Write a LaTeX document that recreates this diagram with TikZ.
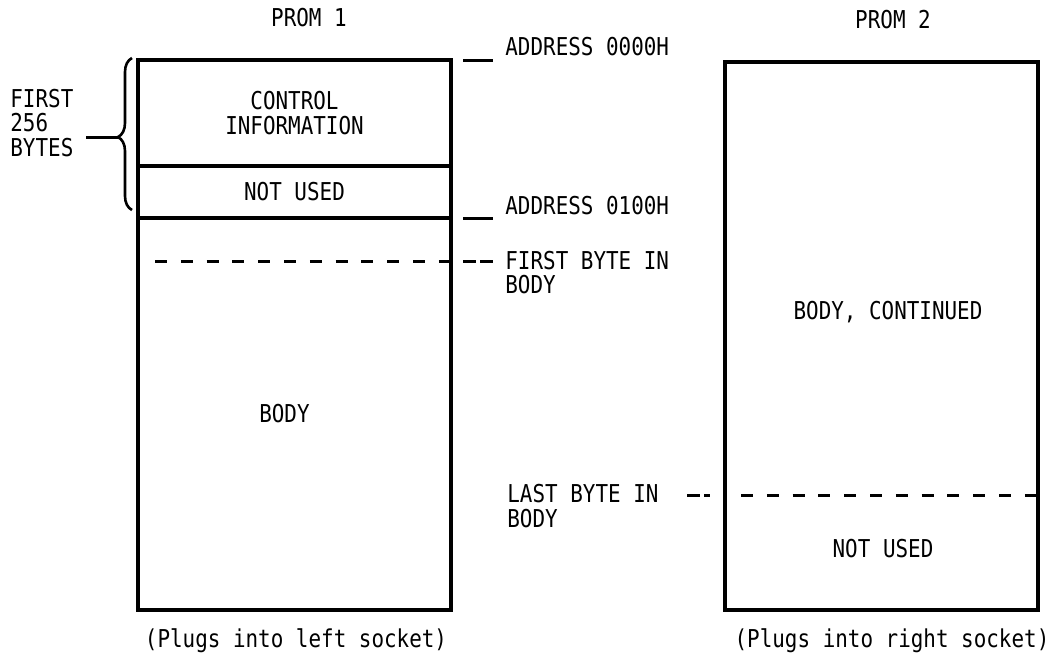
\documentclass[tikz,border=0pt]{standalone}
\usepackage{fontspec}
\usetikzlibrary{positioning, calc, decorations.pathreplacing}
\newfontfamily\promfont[FakeStretch=0.85]{DejaVu Sans Mono}
\newcommand{\promtext}{\promfont\fontsize{12.3}{12.4}\selectfont}
\tikzset{
  lbl/.style={font=\promtext, inner sep=0pt},
  lbll/.style={lbl, align=left, anchor=west},
  sect/.style={lbl, draw, line width=1.6pt, outer sep=0pt, minimum width=156.5pt, align=center},
  tick/.style={line width=1.5pt},
  dashln/.style={line width=1.5pt, dash pattern=on 6pt off 6.9pt},
  ddash/.style={line width=1.5pt, dash pattern=on 6.5pt off 2pt},
}

\begin{document}
\begin{tikzpicture}[x=0.5pt, y=-0.5pt]
    \useasboundingbox (0,0) rectangle (1062,665);

    % prom 1 column
    \node[sect, minimum height=53pt] (ctrl) at (294.5,113) {CONTROL\\INFORMATION};
    \node[sect, minimum height=26pt, below=0pt of ctrl] (nu1) {NOT USED};
    \node[sect, minimum height=196pt, below=0pt of nu1] (body1) {};
    \node[lbl, xshift=-5pt] (b1txt) at (body1) {BODY};
    \node[lbl] (t1) at (309,18) {PROM 1};
    \node[lbl] (s1) at (296,641) {(Plugs into left socket)};
    \coordinate (fb) at (155,261);
    \draw[dashln] (fb) -- (fb -| body1.east);

    % first 256 bytes brace
    \coordinate (brtop) at (132,58);
    \coordinate (brbot) at (132,210);
    \coordinate (brtip) at (118,137);
    \coordinate (brtail) at (86,137);
    \draw[line width=1.3pt, decorate, decoration={brace, amplitude=7pt, aspect=0.48}] (brbot) -- (brtop);
    \draw[tick] (brtip) -- (brtail);
    \node[lbll] (fst) at (10,123) {FIRST\\256\\BYTES};

    % address labels
    \node[lbll] (a0) at (505,47) {ADDRESS 0000H};
    \node[lbll] (a1) at (505,206) {ADDRESS 0100H};
    \node[lbll] (fbt) at (505,272.5) {FIRST BYTE IN\\BODY};
    \node[lbll] (lbt) at (507,506) {LAST BYTE IN\\BODY};
    \draw[tick] ([xshift=6pt]ctrl.north east) -- ([xshift=-6pt]a0.west |- ctrl.north);
    \draw[tick] ([xshift=6pt]nu1.south east) -- ([xshift=-6pt]a1.west |- nu1.south);
    \draw[ddash] ([xshift=6pt]fb -| body1.east) -- ([xshift=-6pt]fbt.west |- fb);

    % prom 2 column
    \node[sect, minimum height=274pt] (prom2) at (881.5,336) {};
    \node[lbl] (t2) at (893,20) {PROM 2};
    \node[lbl] (bc) at (888,312) {BODY, CONTINUED};
    \node[lbl] (nu2) at (883,549) {NOT USED};
    \node[lbl] (s2) at (892,641) {(Plugs into right socket)};
    \coordinate (lb) at (741,495);
    \draw[dashln] (lb) -- (lb -| prom2.east);
    \draw[ddash] ([xshift=-19pt]prom2.west |- lb) -- ([xshift=-7.5pt]prom2.west |- lb);
\end{tikzpicture}
\end{document}
